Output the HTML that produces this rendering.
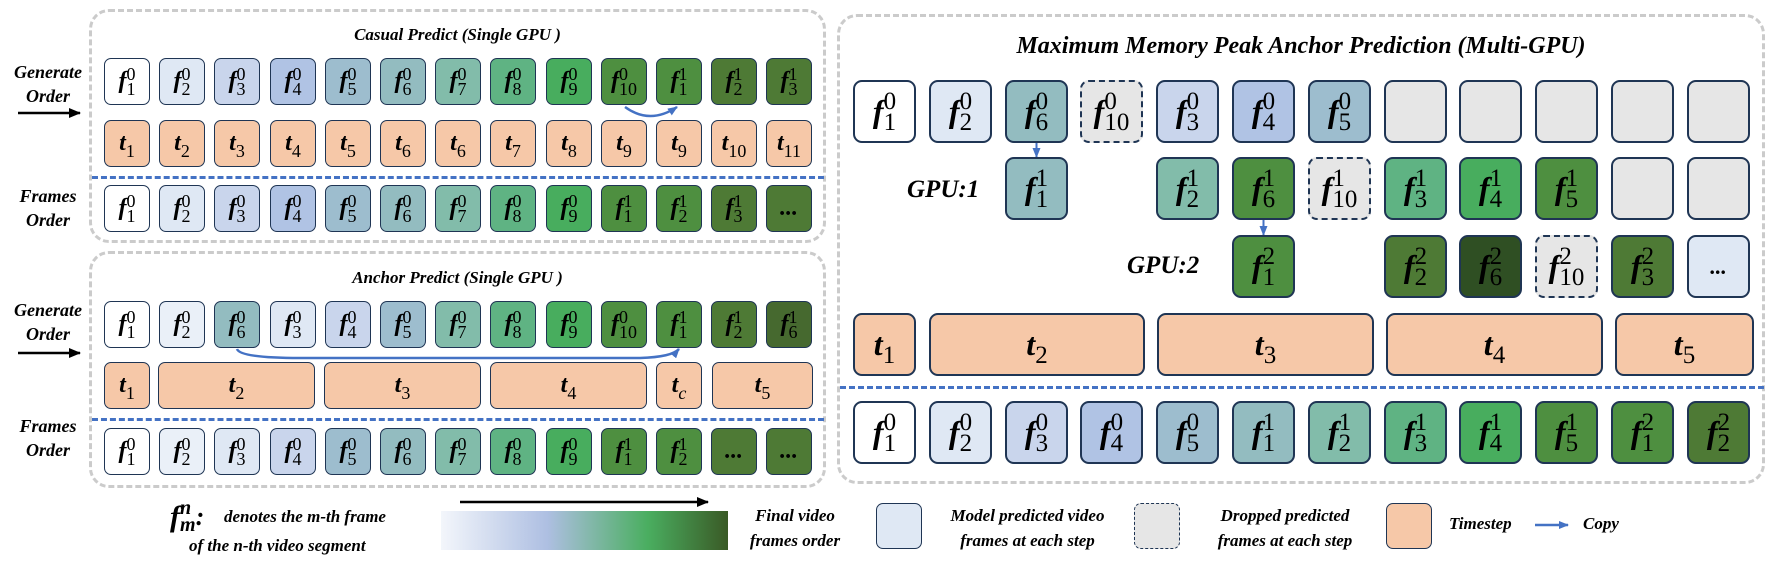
<!DOCTYPE html>
<html><head><meta charset="utf-8"><style>
body{margin:0;width:1769px;height:562px;background:#fff;position:relative;overflow:hidden;font-family:"Liberation Serif",serif}
.box{position:absolute;border:3px dashed #cbcbcb;border-radius:20px;box-sizing:border-box}
.b{position:absolute;width:46px;height:47px;border:1.5px solid #1f3554;border-radius:7px;box-sizing:border-box;display:flex;align-items:center;justify-content:center;font:italic bold 24px "Liberation Serif",serif;color:#000}
.B{width:63px;height:63px;font-size:32px;border-radius:9px;border-width:2px}
.d{border-style:dashed;background:#e6e6e6}
.ss{display:inline-flex;flex-direction:column;font-style:normal;font-weight:normal;font-size:18px;line-height:15px;margin-left:0}
.B .ss{font-size:25px;line-height:21px}
.t{background:#f6c8a8}
.lab{position:absolute;font:italic bold 18px "Liberation Serif",serif;text-align:center;line-height:24px}
.ttl{position:absolute;font:italic bold 17px "Liberation Serif",serif;white-space:nowrap}
.dash{position:absolute;height:0;border-top:3px dashed #4472c4}
</style></head><body>

<div class="box" style="left:89px;top:9px;width:737px;height:234px"></div>
<div class="box" style="left:89px;top:251px;width:737px;height:237px"></div>
<div class="box" style="left:837px;top:14px;width:928px;height:470px"></div>

<div class="ttl" style="left:89px;width:737px;text-align:center;top:25px">Casual Predict (Single GPU )</div>
<div class="ttl" style="left:89px;width:737px;text-align:center;top:268px">Anchor Predict (Single GPU )</div>
<div class="ttl" style="left:837px;width:928px;text-align:center;top:33px;font-size:24px">Maximum Memory Peak Anchor Prediction (Multi-GPU)</div>

<div class="lab" style="left:5px;top:60px;width:86px">Generate<br>Order</div>
<div class="lab" style="left:5px;top:184px;width:86px">Frames<br>Order</div>
<div class="lab" style="left:5px;top:298px;width:86px">Generate<br>Order</div>
<div class="lab" style="left:5px;top:414px;width:86px">Frames<br>Order</div>

<svg style="position:absolute;left:0;top:0" width="1769" height="562">
<defs><marker id="ak" markerUnits="userSpaceOnUse" markerWidth="12" markerHeight="10" refX="11" refY="5" orient="auto"><path d="M0,0L12,5L0,10z" fill="#000"/></marker>
<marker id="ab" markerUnits="userSpaceOnUse" markerWidth="10" markerHeight="8" refX="9" refY="4" orient="auto"><path d="M0,0L10,4L0,8z" fill="#4472c4"/></marker>
<linearGradient id="g"><stop offset="0" stop-color="#f3f6fb"/><stop offset="0.37" stop-color="#aebfe2"/><stop offset="0.72" stop-color="#4aae60"/><stop offset="1" stop-color="#3a5a26"/></linearGradient></defs>
<line x1="18" y1="113" x2="80" y2="113" stroke="#000" stroke-width="2.5" marker-end="url(#ak)"/>
<line x1="18" y1="353" x2="80" y2="353" stroke="#000" stroke-width="2.5" marker-end="url(#ak)"/>
<line x1="460" y1="502" x2="708" y2="502" stroke="#000" stroke-width="2.5" marker-end="url(#ak)"/>
<path d="M625,107 Q650,125 677,107" fill="none" stroke="#4472c4" stroke-width="2.5" marker-end="url(#ab)"/>
<path d="M237,349 Q240,358 300,358 L640,358 Q672,357 679,349" fill="none" stroke="#4472c4" stroke-width="2.5" marker-end="url(#ab)"/>
<line x1="1036.5" y1="143" x2="1036.5" y2="157" stroke="#4472c4" stroke-width="2" marker-end="url(#ab)"/>
<line x1="1263.5" y1="220" x2="1263.5" y2="235" stroke="#4472c4" stroke-width="2" marker-end="url(#ab)"/>
<line x1="1535" y1="525" x2="1568" y2="525" stroke="#4472c4" stroke-width="2.5" marker-end="url(#ab)"/>
<rect x="441" y="511" width="287" height="39" fill="url(#g)"/>
</svg>

<div class="dash" style="left:92px;top:176px;width:732px"></div>
<div class="dash" style="left:92px;top:418px;width:732px"></div>
<div class="dash" style="left:840px;top:386px;width:924px"></div>

<!-- Casual generate row -->
<div class="b" style="left:104px;top:58px;background:#fff"><i>f</i><span class="ss"><span>0</span><span>1</span></span></div>
<div class="b" style="left:159px;top:58px;background:#dfe8f4"><i>f</i><span class="ss"><span>0</span><span>2</span></span></div>
<div class="b" style="left:214px;top:58px;background:#c9d5ec"><i>f</i><span class="ss"><span>0</span><span>3</span></span></div>
<div class="b" style="left:270px;top:58px;background:#b0c3e4"><i>f</i><span class="ss"><span>0</span><span>4</span></span></div>
<div class="b" style="left:325px;top:58px;background:#9dbdce"><i>f</i><span class="ss"><span>0</span><span>5</span></span></div>
<div class="b" style="left:380px;top:58px;background:#93bcc0"><i>f</i><span class="ss"><span>0</span><span>6</span></span></div>
<div class="b" style="left:435px;top:58px;background:#82bcaa"><i>f</i><span class="ss"><span>0</span><span>7</span></span></div>
<div class="b" style="left:490px;top:58px;background:#5fb383"><i>f</i><span class="ss"><span>0</span><span>8</span></span></div>
<div class="b" style="left:546px;top:58px;background:#48ad5e"><i>f</i><span class="ss"><span>0</span><span>9</span></span></div>
<div class="b" style="left:601px;top:58px;background:#4e8f40"><i>f</i><span class="ss"><span>0</span><span>10</span></span></div>
<div class="b" style="left:656px;top:58px;background:#4e8f40"><i>f</i><span class="ss"><span>1</span><span>1</span></span></div>
<div class="b" style="left:711px;top:58px;background:#4e7a35"><i>f</i><span class="ss"><span>1</span><span>2</span></span></div>
<div class="b" style="left:766px;top:58px;background:#4e7a35"><i>f</i><span class="ss"><span>1</span><span>3</span></span></div>
<!-- Casual t row -->
<div class="b t" style="left:104px;top:120px"><i>t</i><span class="ss"><span>&nbsp;</span><span>1</span></span></div>
<div class="b t" style="left:159px;top:120px"><i>t</i><span class="ss"><span>&nbsp;</span><span>2</span></span></div>
<div class="b t" style="left:214px;top:120px"><i>t</i><span class="ss"><span>&nbsp;</span><span>3</span></span></div>
<div class="b t" style="left:270px;top:120px"><i>t</i><span class="ss"><span>&nbsp;</span><span>4</span></span></div>
<div class="b t" style="left:325px;top:120px"><i>t</i><span class="ss"><span>&nbsp;</span><span>5</span></span></div>
<div class="b t" style="left:380px;top:120px"><i>t</i><span class="ss"><span>&nbsp;</span><span>6</span></span></div>
<div class="b t" style="left:435px;top:120px"><i>t</i><span class="ss"><span>&nbsp;</span><span>6</span></span></div>
<div class="b t" style="left:490px;top:120px"><i>t</i><span class="ss"><span>&nbsp;</span><span>7</span></span></div>
<div class="b t" style="left:546px;top:120px"><i>t</i><span class="ss"><span>&nbsp;</span><span>8</span></span></div>
<div class="b t" style="left:601px;top:120px"><i>t</i><span class="ss"><span>&nbsp;</span><span>9</span></span></div>
<div class="b t" style="left:656px;top:120px"><i>t</i><span class="ss"><span>&nbsp;</span><span>9</span></span></div>
<div class="b t" style="left:711px;top:120px"><i>t</i><span class="ss"><span>&nbsp;</span><span>10</span></span></div>
<div class="b t" style="left:766px;top:120px"><i>t</i><span class="ss"><span>&nbsp;</span><span>11</span></span></div>
<!-- Casual frames order -->
<div class="b" style="left:104px;top:185px;background:#fff"><i>f</i><span class="ss"><span>0</span><span>1</span></span></div>
<div class="b" style="left:159px;top:185px;background:#dfe8f4"><i>f</i><span class="ss"><span>0</span><span>2</span></span></div>
<div class="b" style="left:214px;top:185px;background:#c9d5ec"><i>f</i><span class="ss"><span>0</span><span>3</span></span></div>
<div class="b" style="left:270px;top:185px;background:#b0c3e4"><i>f</i><span class="ss"><span>0</span><span>4</span></span></div>
<div class="b" style="left:325px;top:185px;background:#9dbdce"><i>f</i><span class="ss"><span>0</span><span>5</span></span></div>
<div class="b" style="left:380px;top:185px;background:#93bcc0"><i>f</i><span class="ss"><span>0</span><span>6</span></span></div>
<div class="b" style="left:435px;top:185px;background:#82bcaa"><i>f</i><span class="ss"><span>0</span><span>7</span></span></div>
<div class="b" style="left:490px;top:185px;background:#5fb383"><i>f</i><span class="ss"><span>0</span><span>8</span></span></div>
<div class="b" style="left:546px;top:185px;background:#48ad5e"><i>f</i><span class="ss"><span>0</span><span>9</span></span></div>
<div class="b" style="left:601px;top:185px;background:#4e8f40"><i>f</i><span class="ss"><span>1</span><span>1</span></span></div>
<div class="b" style="left:656px;top:185px;background:#4e8f40"><i>f</i><span class="ss"><span>1</span><span>2</span></span></div>
<div class="b" style="left:711px;top:185px;background:#4e7a35"><i>f</i><span class="ss"><span>1</span><span>3</span></span></div>
<div class="b" style="left:766px;top:185px;background:#4e7a35">...</div>

<!-- Anchor generate row -->
<div class="b" style="left:104px;top:301px;background:#fff"><i>f</i><span class="ss"><span>0</span><span>1</span></span></div>
<div class="b" style="left:159px;top:301px;background:#eaf0f8"><i>f</i><span class="ss"><span>0</span><span>2</span></span></div>
<div class="b" style="left:214px;top:301px;background:#93bcc0"><i>f</i><span class="ss"><span>0</span><span>6</span></span></div>
<div class="b" style="left:270px;top:301px;background:#dfe8f4"><i>f</i><span class="ss"><span>0</span><span>3</span></span></div>
<div class="b" style="left:325px;top:301px;background:#c9d5ec"><i>f</i><span class="ss"><span>0</span><span>4</span></span></div>
<div class="b" style="left:380px;top:301px;background:#9dbdce"><i>f</i><span class="ss"><span>0</span><span>5</span></span></div>
<div class="b" style="left:435px;top:301px;background:#82bcaa"><i>f</i><span class="ss"><span>0</span><span>7</span></span></div>
<div class="b" style="left:490px;top:301px;background:#5fb383"><i>f</i><span class="ss"><span>0</span><span>8</span></span></div>
<div class="b" style="left:546px;top:301px;background:#48ad5e"><i>f</i><span class="ss"><span>0</span><span>9</span></span></div>
<div class="b" style="left:601px;top:301px;background:#4e8f40"><i>f</i><span class="ss"><span>0</span><span>10</span></span></div>
<div class="b" style="left:656px;top:301px;background:#4e8f40"><i>f</i><span class="ss"><span>1</span><span>1</span></span></div>
<div class="b" style="left:711px;top:301px;background:#4e7a35"><i>f</i><span class="ss"><span>1</span><span>2</span></span></div>
<div class="b" style="left:766px;top:301px;background:#46692f"><i>f</i><span class="ss"><span>1</span><span>6</span></span></div>
<!-- Anchor t row -->
<div class="b t" style="left:104px;top:362px"><i>t</i><span class="ss"><span>&nbsp;</span><span>1</span></span></div>
<div class="b t" style="left:158px;top:362px;width:157px"><i>t</i><span class="ss"><span>&nbsp;</span><span>2</span></span></div>
<div class="b t" style="left:324px;top:362px;width:157px"><i>t</i><span class="ss"><span>&nbsp;</span><span>3</span></span></div>
<div class="b t" style="left:490px;top:362px;width:157px"><i>t</i><span class="ss"><span>&nbsp;</span><span>4</span></span></div>
<div class="b t" style="left:656px;top:362px"><i>t</i><span class="ss"><span>&nbsp;</span><span><i>c</i></span></span></div>
<div class="b t" style="left:712px;top:362px;width:101px"><i>t</i><span class="ss"><span>&nbsp;</span><span>5</span></span></div>
<!-- Anchor frames order -->
<div class="b" style="left:104px;top:428px;background:#fff"><i>f</i><span class="ss"><span>0</span><span>1</span></span></div>
<div class="b" style="left:159px;top:428px;background:#eaf0f8"><i>f</i><span class="ss"><span>0</span><span>2</span></span></div>
<div class="b" style="left:214px;top:428px;background:#dfe8f4"><i>f</i><span class="ss"><span>0</span><span>3</span></span></div>
<div class="b" style="left:270px;top:428px;background:#c9d5ec"><i>f</i><span class="ss"><span>0</span><span>4</span></span></div>
<div class="b" style="left:325px;top:428px;background:#9dbdce"><i>f</i><span class="ss"><span>0</span><span>5</span></span></div>
<div class="b" style="left:380px;top:428px;background:#93bcc0"><i>f</i><span class="ss"><span>0</span><span>6</span></span></div>
<div class="b" style="left:435px;top:428px;background:#82bcaa"><i>f</i><span class="ss"><span>0</span><span>7</span></span></div>
<div class="b" style="left:490px;top:428px;background:#5fb383"><i>f</i><span class="ss"><span>0</span><span>8</span></span></div>
<div class="b" style="left:546px;top:428px;background:#48ad5e"><i>f</i><span class="ss"><span>0</span><span>9</span></span></div>
<div class="b" style="left:601px;top:428px;background:#4e8f40"><i>f</i><span class="ss"><span>1</span><span>1</span></span></div>
<div class="b" style="left:656px;top:428px;background:#4e8f40"><i>f</i><span class="ss"><span>1</span><span>2</span></span></div>
<div class="b" style="left:711px;top:428px;background:#4e7a35">...</div>
<div class="b" style="left:766px;top:428px;background:#4e7a35">...</div>

<!-- Right panel row 1 -->
<div class="b B" style="left:853px;top:80px;background:#fff"><i>f</i><span class="ss"><span>0</span><span>1</span></span></div>
<div class="b B" style="left:929px;top:80px;background:#dfe8f4"><i>f</i><span class="ss"><span>0</span><span>2</span></span></div>
<div class="b B" style="left:1005px;top:80px;background:#93bcc0"><i>f</i><span class="ss"><span>0</span><span>6</span></span></div>
<div class="b B d" style="left:1080px;top:80px"><i>f</i><span class="ss"><span>0</span><span>10</span></span></div>
<div class="b B" style="left:1156px;top:80px;background:#c9d5ec"><i>f</i><span class="ss"><span>0</span><span>3</span></span></div>
<div class="b B" style="left:1232px;top:80px;background:#b0c3e4"><i>f</i><span class="ss"><span>0</span><span>4</span></span></div>
<div class="b B" style="left:1308px;top:80px;background:#9dbdce"><i>f</i><span class="ss"><span>0</span><span>5</span></span></div>
<div class="b B" style="left:1384px;top:80px;background:#e6e6e6"></div>
<div class="b B" style="left:1459px;top:80px;background:#e6e6e6"></div>
<div class="b B" style="left:1535px;top:80px;background:#e6e6e6"></div>
<div class="b B" style="left:1611px;top:80px;background:#e6e6e6"></div>
<div class="b B" style="left:1687px;top:80px;background:#e6e6e6"></div>
<!-- row 2 -->
<div class="ttl" style="left:907px;top:176px;font-size:25px">GPU:1</div>
<div class="b B" style="left:1005px;top:157px;background:#93bcc0"><i>f</i><span class="ss"><span>1</span><span>1</span></span></div>
<div class="b B" style="left:1156px;top:157px;background:#82bcaa"><i>f</i><span class="ss"><span>1</span><span>2</span></span></div>
<div class="b B" style="left:1232px;top:157px;background:#4e8f40"><i>f</i><span class="ss"><span>1</span><span>6</span></span></div>
<div class="b B d" style="left:1308px;top:157px"><i>f</i><span class="ss"><span>1</span><span>10</span></span></div>
<div class="b B" style="left:1384px;top:157px;background:#5fb383"><i>f</i><span class="ss"><span>1</span><span>3</span></span></div>
<div class="b B" style="left:1459px;top:157px;background:#48ad5e"><i>f</i><span class="ss"><span>1</span><span>4</span></span></div>
<div class="b B" style="left:1535px;top:157px;background:#4e8f40"><i>f</i><span class="ss"><span>1</span><span>5</span></span></div>
<div class="b B" style="left:1611px;top:157px;background:#e6e6e6"></div>
<div class="b B" style="left:1687px;top:157px;background:#e6e6e6"></div>
<!-- row 3 -->
<div class="ttl" style="left:1127px;top:252px;font-size:25px">GPU:2</div>
<div class="b B" style="left:1232px;top:235px;background:#4e8f40"><i>f</i><span class="ss"><span>2</span><span>1</span></span></div>
<div class="b B" style="left:1384px;top:235px;background:#4e7a35"><i>f</i><span class="ss"><span>2</span><span>2</span></span></div>
<div class="b B" style="left:1459px;top:235px;background:#2f4f23"><i>f</i><span class="ss"><span>2</span><span>6</span></span></div>
<div class="b B d" style="left:1535px;top:235px"><i>f</i><span class="ss"><span>2</span><span>10</span></span></div>
<div class="b B" style="left:1611px;top:235px;background:#4e7a35"><i>f</i><span class="ss"><span>2</span><span>3</span></span></div>
<div class="b B" style="left:1687px;top:235px;background:#dfe8f4;font-size:22px">...</div>
<!-- t row -->
<div class="b B t" style="left:853px;top:313px"><i>t</i><span class="ss"><span>&nbsp;</span><span>1</span></span></div>
<div class="b B t" style="left:929px;top:313px;width:216px"><i>t</i><span class="ss"><span>&nbsp;</span><span>2</span></span></div>
<div class="b B t" style="left:1157px;top:313px;width:217px"><i>t</i><span class="ss"><span>&nbsp;</span><span>3</span></span></div>
<div class="b B t" style="left:1386px;top:313px;width:217px"><i>t</i><span class="ss"><span>&nbsp;</span><span>4</span></span></div>
<div class="b B t" style="left:1615px;top:313px;width:139px"><i>t</i><span class="ss"><span>&nbsp;</span><span>5</span></span></div>
<!-- bottom row -->
<div class="b B" style="left:853px;top:401px;background:#fff"><i>f</i><span class="ss"><span>0</span><span>1</span></span></div>
<div class="b B" style="left:929px;top:401px;background:#dfe8f4"><i>f</i><span class="ss"><span>0</span><span>2</span></span></div>
<div class="b B" style="left:1005px;top:401px;background:#c9d5ec"><i>f</i><span class="ss"><span>0</span><span>3</span></span></div>
<div class="b B" style="left:1080px;top:401px;background:#b0c3e4"><i>f</i><span class="ss"><span>0</span><span>4</span></span></div>
<div class="b B" style="left:1156px;top:401px;background:#9dbdce"><i>f</i><span class="ss"><span>0</span><span>5</span></span></div>
<div class="b B" style="left:1232px;top:401px;background:#93bcc0"><i>f</i><span class="ss"><span>1</span><span>1</span></span></div>
<div class="b B" style="left:1308px;top:401px;background:#82bcaa"><i>f</i><span class="ss"><span>1</span><span>2</span></span></div>
<div class="b B" style="left:1384px;top:401px;background:#5fb383"><i>f</i><span class="ss"><span>1</span><span>3</span></span></div>
<div class="b B" style="left:1459px;top:401px;background:#48ad5e"><i>f</i><span class="ss"><span>1</span><span>4</span></span></div>
<div class="b B" style="left:1535px;top:401px;background:#4e8f40"><i>f</i><span class="ss"><span>1</span><span>5</span></span></div>
<div class="b B" style="left:1611px;top:401px;background:#4e8f40"><i>f</i><span class="ss"><span>2</span><span>1</span></span></div>
<div class="b B" style="left:1687px;top:401px;background:#4e7a35"><i>f</i><span class="ss"><span>2</span><span>2</span></span></div>

<!-- legend -->
<div style="position:absolute;left:170px;top:500px;font:italic bold 30px 'Liberation Serif',serif;display:flex;align-items:center"><i>f</i><span class="ss" style="font-size:20px;line-height:17px;font-weight:bold"><span><i>n</i></span><span><i>m</i></span></span><span style="font-size:26px">:</span></div>
<div class="ttl" style="left:224px;top:507px;font-size:17px">denotes the m-th frame</div>
<div class="ttl" style="left:189px;top:536px;font-size:17px">of the n-th video segment</div>
<div class="lab" style="left:736px;top:503px;width:118px;font-size:17px;line-height:25px">Final video<br>frames order</div>
<div class="b" style="left:876px;top:503px;width:46px;height:46px;background:#dfe8f4"></div>
<div class="lab" style="left:925px;top:503px;width:205px;font-size:17px;line-height:25px">Model predicted video<br>frames at each step</div>
<div class="b d" style="left:1134px;top:503px;width:46px;height:46px"></div>
<div class="lab" style="left:1197px;top:503px;width:176px;font-size:17px;line-height:25px">Dropped predicted<br>frames at each step</div>
<div class="b t" style="left:1386px;top:503px;width:46px;height:46px"></div>
<div class="ttl" style="left:1449px;top:514px;font-size:17px">Timestep</div>
<div class="ttl" style="left:1583px;top:514px;font-size:17px">Copy</div>
</body></html>
